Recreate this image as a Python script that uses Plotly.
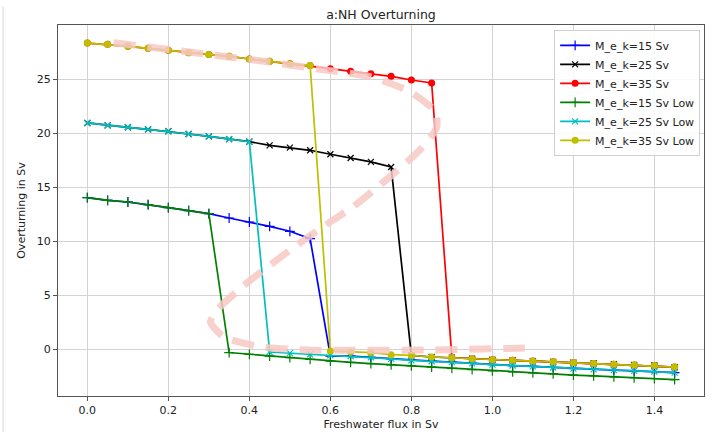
import plotly.graph_objects as go

x_flux = [0.0, 0.05, 0.1, 0.15, 0.2, 0.25, 0.3, 0.35, 0.4, 0.45,
          0.5, 0.55, 0.6, 0.65, 0.7, 0.75, 0.8, 0.85, 0.9, 0.95,
          1.0, 1.05, 1.1, 1.15, 1.2, 1.25, 1.3, 1.35, 1.4, 1.45]

mek15 = [14.05, 13.8, 13.64, 13.4, 13.12, 12.84, 12.56, 12.16, 11.79, 11.39,
         10.93, 10.25, -0.62, -0.62, -0.75, -0.88, -1.02, -1.1, -1.18, -1.3,
         -1.42, -1.5, -1.58, -1.68, -1.79, -1.85, -1.92, -1.99, -2.05, -2.16]
mek25 = [20.96, 20.74, 20.56, 20.37, 20.19, 19.94, 19.72, 19.47, 19.23, 18.89,
         18.67, 18.43, 18.06, 17.72, 17.35, 16.88, -0.56, -0.71, -0.77, -0.87,
         -0.96, -1.02, -1.09, -1.16, -1.23, -1.3, -1.38, -1.45, -1.5, -1.64]
mek35 = [28.36, 28.24, 28.06, 27.87, 27.69, 27.47, 27.31, 27.13, 26.88, 26.67,
         26.45, 26.27, 25.99, 25.74, 25.52, 25.28, 24.94, 24.66, -0.77, -0.87,
         -0.96, -1.02, -1.09, -1.16, -1.23, -1.3, -1.38, -1.45, -1.5, -1.64]
mek15_low = [14.05, 13.8, 13.64, 13.4, 13.12, 12.84, 12.56, -0.3, -0.46, -0.62,
             -0.77, -0.93, -1.1, -1.2, -1.32, -1.43, -1.54, -1.65, -1.76, -1.88,
             -2.0, -2.08, -2.17, -2.27, -2.38, -2.46, -2.55, -2.63, -2.7, -2.81]
mek25_low = [20.96, 20.74, 20.56, 20.37, 20.19, 19.94, 19.72, 19.47, 19.23, -0.25,
             -0.35, -0.46, -0.55, -0.62, -0.75, -0.88, -1.02, -1.1, -1.18, -1.3,
             -1.42, -1.5, -1.58, -1.68, -1.79, -1.85, -1.92, -1.99, -2.05, -2.16]
mek35_low = [28.36, 28.24, 28.06, 27.87, 27.69, 27.47, 27.31, 27.13, 26.88, 26.67,
             26.45, 26.27, -0.15, -0.25, -0.3, -0.49, -0.56, -0.71, -0.77, -0.87,
             -0.96, -1.02, -1.09, -1.16, -1.23, -1.3, -1.38, -1.45, -1.5, -1.64]

# hand-drawn hysteresis sketch (pink dashed overlay)
sketch_x = [0.065, 0.15, 0.3, 0.45, 0.55, 0.698, 0.797, 0.86, 0.862, 0.821,
            0.747, 0.656, 0.57, 0.484, 0.394, 0.32, 0.304, 0.336, 0.427, 0.542,
            0.853, 1.08]
sketch_y = [28.39, 28.0, 27.3, 26.6, 26.05, 25.24, 23.85, 21.97, 20.5, 18.46,
            15.98, 13.2, 11.05, 8.73, 6.14, 3.64, 2.53, 1.17, 0.24, -0.06,
            -0.06, 0.12]

series = [
    ("M_e_k=15 Sv", mek15, "#0000ff", "cross-thin", 7),
    ("M_e_k=25 Sv", mek25, "#000000", "x-thin", 6),
    ("M_e_k=35 Sv", mek35, "#ff0000", "circle", 7),
    ("M_e_k=15 Sv Low", mek15_low, "#008000", "cross-thin", 7),
    ("M_e_k=25 Sv Low", mek25_low, "#00bfbf", "x-thin", 6),
    ("M_e_k=35 Sv Low", mek35_low, "#bfbf00", "circle", 7),
]

fig = go.Figure()
for name, ys, col, sym, sz in series:
    thin = sym != "circle"
    fig.add_trace(go.Scatter(
        x=x_flux, y=ys, name=name, mode="lines+markers",
        line=dict(color=col, width=1.7),
        marker=dict(symbol=sym, size=sz, color=col,
                    line=dict(color=col, width=1.2 if thin else 0)),
    ))

fig.add_trace(go.Scatter(
    x=sketch_x, y=sketch_y, mode="lines", showlegend=False,
    line=dict(color="rgb(247,200,196)", width=7, dash="22px,12px", shape="spline", smoothing=0.6),
    opacity=0.85, hoverinfo="skip",
))

axis_common = dict(
    showgrid=True, gridcolor="#d3d3d3", gridwidth=1,
    showline=True, linecolor="#555555", linewidth=1.2, mirror=True,
    ticks="outside", ticklen=4, tickcolor="#555555",
    zeroline=False, tickfont=dict(size=11, color="#222222"), automargin=False,
)

fig.update_layout(
    width=718, height=432,
    margin=dict(l=58, r=14, t=25, b=36),
    paper_bgcolor="white", plot_bgcolor="white",
    font=dict(family="DejaVu Sans", size=11, color="#222222"),
    title=dict(text="a:NH Overturning", x=0.5306, xanchor="center",
               y=0.965, yanchor="middle", font=dict(size=12.5)),
    xaxis=dict(range=[-0.0725, 1.5225], tickvals=[0, 0.2, 0.4, 0.6, 0.8, 1.0, 1.2, 1.4],
               ticktext=["0.0", "0.2", "0.4", "0.6", "0.8", "1.0", "1.2", "1.4"],
               title=dict(text="Freshwater flux in Sv", standoff=4, font=dict(size=11)),
               **axis_common),
    yaxis=dict(range=[-4.32, 30.03], tickvals=[0, 5, 10, 15, 20, 25],
               title=dict(text="Overturning in Sv", standoff=8, font=dict(size=11)),
               **axis_common),
    legend=dict(x=0.994, y=0.987, xanchor="right", yanchor="top",
                bgcolor="rgba(255,255,255,0.85)", bordercolor="#d0d0d0", borderwidth=1,
                font=dict(size=11), tracegroupgap=0, itemwidth=30),
    showlegend=True,
    shapes=[dict(type="line", xref="paper", yref="paper",
                 x0=-0.085, x1=-0.085, y0=-0.1, y1=1.05,
                 line=dict(color="#d8d8d8", width=1))],
)

fig.write_html("out.html")
